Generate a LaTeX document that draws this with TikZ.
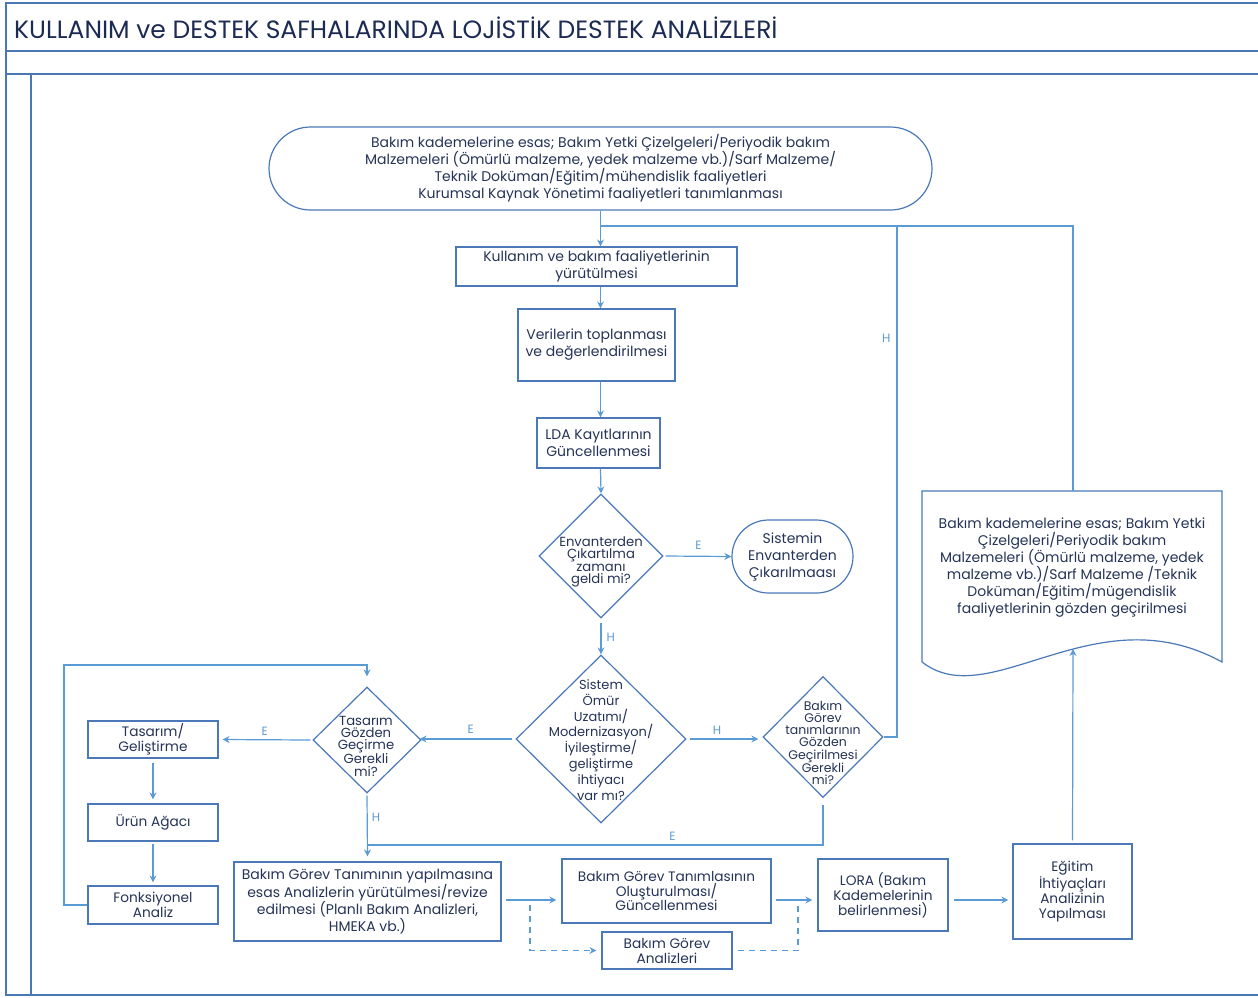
\documentclass[tikz,border=0pt]{standalone}
\usepackage{fontspec}
\setmainfont{Poppins}
\usetikzlibrary{shapes.geometric,shapes.misc,arrows.meta}
\definecolor{ink}{HTML}{243356}
\definecolor{titleink}{HTML}{1C2B52}
\definecolor{edge}{HTML}{4A78B8}
\definecolor{flow}{HTML}{5B9BD5}
\definecolor{framecol}{HTML}{4A78B5}

\begin{document}
\begin{tikzpicture}[x=1pt,y=-1pt,
  txt/.style={text=ink, align=center, inner sep=0pt},
  big/.style={font=\fontsize{14}{17}\selectfont},
  mid/.style={font=\fontsize{13.7}{15}\selectfont},
  box/.style={draw=edge, line width=1.2pt, txt},
  term/.style={draw=edge, line width=1.2pt, rounded rectangle, txt},
  decision/.style={draw=edge, line width=1.2pt, diamond, inner sep=0pt},
  flowline/.style={draw=flow, line width=1.2pt},
  flowarrow/.style={flowline, -{Stealth[length=7pt,width=7pt]}},
  dashflow/.style={flowarrow, dashed, dash pattern=on 6pt off 5pt},
  yn/.style={text=flow, font=\fontsize{12}{12}\selectfont, inner sep=0pt}
]
\useasboundingbox (0,0) rectangle (1258,997);

% page frame
\begin{scope}[draw=framecol, line width=1.8pt]
  \draw (1258,3) -- (6,3) -- (6,995) -- (1258,995);
  \draw (6,51) -- (1258,51);
  \draw (6,74) -- (1258,74);
  \draw (31,74) -- (31,995);
\end{scope}
\node[anchor=west, text=titleink, inner sep=0pt, font=\fontsize{25}{28}\selectfont] (title) at (14,28)
  {KULLANIM ve DESTEK SAFHALARINDA LOJİSTİK DESTEK ANALİZLERİ};

% main column
\node[term, big, minimum width=663pt, minimum height=83pt] (start) at (600.5,168.5)
  {Bakım kademelerine esas; Bakım Yetki Çizelgeleri/Periyodik bakım\\
   Malzemeleri (Ömürlü malzeme, yedek malzeme vb.)/Sarf Malzeme/\\
   Teknik Doküman/Eğitim/mühendislik faaliyetleri\\
   Kurumsal Kaynak Yönetimi faaliyetleri tanımlanması};
\node[box, big, minimum width=281pt, minimum height=39pt] (run) at (596.5,266.5)
  {Kullanım ve bakım faaliyetlerinin\\yürütülmesi};
\node[box, big, minimum width=157pt, minimum height=72pt] (collect) at (596.5,345)
  {Verilerin toplanması\\ve değerlendirilmesi};
\node[box, big, minimum width=123pt, minimum height=50pt] (lda) at (598.5,443)
  {LDA Kayıtlarının\\Güncellenmesi};

\node[decision, minimum width=124pt, minimum height=124pt] (inv) at (601,556) {};
\node[txt, font=\fontsize{13.2}{12.4}\selectfont] (invt) at (601,562) {Envanterden\\Çıkartılma\\zamanı\\geldi mi?};
\node[term, big, minimum width=121pt, minimum height=73pt] (remove) at (792.5,556.5)
  {Sistemin\\Envanterden\\Çıkarılmaası};

\node[decision, minimum width=170pt, minimum height=168pt] (ext) at (601,739) {};
\node[txt, font=\fontsize{13}{15.9}\selectfont] (extt) at (601,740)
  {Sistem\\Ömür\\Uzatımı/\\Modernizasyon/\\İyileştirme/\\geliştirme\\ihtiyacı\\var mı?};

\node[decision, minimum width=108pt, minimum height=106pt] (des) at (367,740) {};
\node[txt, font=\fontsize{13.2}{12.2}\selectfont] (dest) at (366,746) {Tasarım\\Gözden\\Geçirme\\Gerekli\\mi?};

\node[decision, minimum width=120pt, minimum height=121pt] (task) at (823,737) {};
\node[txt, font=\fontsize{12.5}{12.2}\selectfont] (taskt) at (823,743)
  {Bakım\\Görev\\tanımlarının\\Gözden\\Geçirilmesi\\Gerekli\\mi?};

% design loop on the left
\node[box, mid, minimum width=130pt, minimum height=37pt] (dev) at (153,739.5) {Tasarım/\\Geliştirme};
\node[box, mid, minimum width=130pt, minimum height=37pt] (tree) at (153,822.5) {Ürün Ağacı};
\node[box, mid, minimum width=130pt, minimum height=38pt] (func) at (153,905) {Fonksiyonel\\Analiz};

% bottom row
\node[box, font=\fontsize{14}{14}\selectfont, minimum width=267pt, minimum height=79pt] (anl) at (367.5,901.5)
  {Bakım Görev Tanımının yapılmasına\\esas Analizlerin yürütülmesi/revize\\edilmesi (Planlı Bakım Analizleri,\\HMEKA vb.)};
\node[box, font=\fontsize{13.7}{14.5}\selectfont, minimum width=209pt, minimum height=64pt] (def) at (666.5,891)
  {Bakım Görev Tanımlasının\\Oluşturulması/\\Güncellenmesi};
\node[box, mid, minimum width=130pt, minimum height=37pt] (bga) at (667,950.5)
  {Bakım Görev\\Analizleri};
\node[box, mid, minimum width=130pt, minimum height=72pt] (lora) at (883,895)
  {LORA (Bakım\\Kademelerinin\\belirlenmesi)};
\node[box, mid, minimum width=119pt, minimum height=95pt] (edu) at (1072.5,891.5)
  {Eğitim\\İhtiyaçları\\Analizinin\\Yapılması};

% document with wavy lower edge
\draw[draw=edge, line width=1.2pt] (922,662) -- (922,491) -- (1222,491) -- (1222,662)
  .. controls (1095,592) and (990,715) .. (922,662);
\node[txt, big] (doc) at (1072,568)
  {Bakım kademelerine esas; Bakım Yetki\\Çizelgeleri/Periyodik bakım\\Malzemeleri (Ömürlü malzeme, yedek\\malzeme vb.)/Sarf Malzeme /Teknik\\Doküman/Eğitim/mügendislik\\faaliyetlerinin gözden geçirilmesi};
\coordinate (docbottom) at (1073,649);
\coordinate (doctop) at (1073,491);

% connectors of the main column
\coordinate (join) at (600,226);
\coordinate (rjoin) at (897,226);
\draw[flowarrow] (start.south) -- (start.south |- run.north);
\draw[flowarrow] (run.south -| start.south) -- (start.south |- collect.north);
\draw[flowarrow] (collect.south -| start.south) -- (start.south |- lda.north);
\draw[flowarrow] (lda.south -| start.south) -- (inv.north);
\draw[flowarrow] ([xshift=2pt]inv.east) -- node[yn, above=6pt, pos=0.5] (e1) {E} (remove.west);
\draw[flowarrow] ([yshift=-4pt]inv.south) -- node[yn, right=5pt, pos=0.45] (h1) {H} (ext.north);
\draw[flowarrow] ([xshift=-3pt]ext.west) -- node[yn, above=5pt, pos=0.45] (e2) {E} ([xshift=-2pt]des.east |- ext.west);
\draw[flowarrow] ([xshift=3pt]ext.east) -- node[yn, above=4pt, pos=0.4] (h2) {H} ([xshift=-4pt]task.west |- ext.east);
\draw[flowline] (task.east) -- (task.east -| rjoin) -- node[yn, left=6pt, pos=0.78] (h3) {H} (rjoin) -- (join);
\draw[flowline] (doctop) -- (doctop |- rjoin) -- (rjoin);

% design review branch
\draw[flowarrow] ([xshift=-2pt]des.west) -- node[yn, above=4pt, pos=0.52] (e3) {E} ([xshift=4pt]dev.east);
\draw[flowarrow] ([yshift=-4pt]dev.south) -- ([yshift=4pt]tree.north);
\draw[flowarrow] ([yshift=-2pt]tree.south) -- ([yshift=3pt]func.north);
\coordinate (loopcorner) at (64,665);
\draw[flowarrow] (func.west) -- (func.west -| loopcorner) -- (loopcorner) -- (loopcorner -| des.north) -- ([yshift=10pt]des.north);
\draw[flowarrow] ([yshift=-2pt]des.south) -- node[yn, right=4pt, pos=0.35] (h4) {H} ([yshift=5pt]anl.north);
\coordinate (ecorner) at (823,845);
\draw[flowline] ([yshift=-7pt]task.south) -- (ecorner) -- node[yn, above=4pt, pos=0.33] (e4) {E} (ecorner -| des.south);

% bottom flow
\coordinate (lsplit) at (530,905);
\coordinate (rsplit) at (798,905);
\draw[flowarrow] ([xshift=4pt]anl.east |- def.east) ++(0,9) coordinate (a1) -- ([xshift=-5pt]def.west |- a1);
\draw[dashflow] (lsplit) -- (lsplit |- bga.west) -- ([xshift=-5pt]bga.west);
\draw[dashflow, -] ([xshift=5pt]bga.east) -- (bga.east -| rsplit) -- (rsplit);
\draw[flowarrow] ([xshift=4pt]def.east |- a1) -- ([xshift=-5pt]lora.west |- a1);
\draw[flowarrow] ([xshift=5pt]lora.east |- a1) -- ([xshift=-4pt]edu.west |- a1);
\draw[flowarrow] ([yshift=3pt]edu.north) -- (docbottom);
\end{tikzpicture}
\end{document}
